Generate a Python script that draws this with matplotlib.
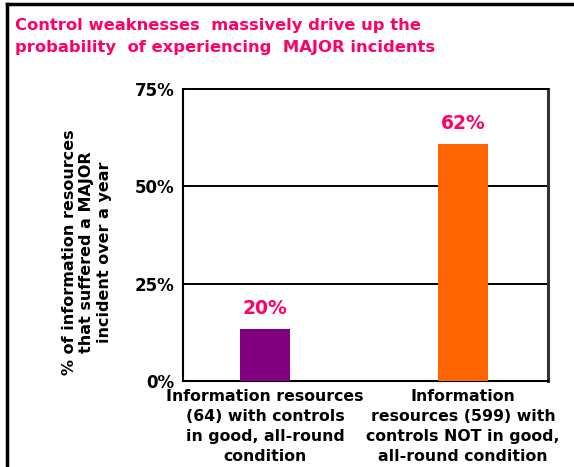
import matplotlib
matplotlib.use("Agg")
from matplotlib import pyplot as plt
from matplotlib.lines import Line2D

# data
categories = ["Information resources\n(64) with controls\nin good, all-round\ncondition",
              "Information\nresources (599) with\ncontrols NOT in good,\nall-round condition"]
bar_heights = [13.3, 61.0]          # drawn heights (percent)
bar_labels = ["20%", "62%"]         # printed labels
bar_colors = ["#800080", "#FF6600"]
yticks = [0, 25, 50, 75]
ytick_labels = ["0%", "25%", "50%", "75%"]

PINK = "#FF0066"
plt.rcParams["font.family"] = ["DejaVu Sans"]

fig = plt.figure(figsize=(5.74, 4.67), dpi=100)
ax = fig.add_axes([183 / 574, 1 - 381 / 467, 365 / 574, (381 - 89) / 467])

x = list(range(len(categories)))
bars = ax.bar(x, bar_heights, width=0.25, color=bar_colors, zorder=3)
for b, lab in zip(bars, bar_labels):
    ax.text(b.get_x() + b.get_width() / 2, b.get_height() + 2.8, lab,
            ha="center", va="bottom", color=PINK, fontsize=13.5, fontweight="bold")

ax.set_xlim(-0.414, 1.429)
ax.set_ylim(0, 75)
ax.set_yticks(yticks)
ax.set_yticklabels(ytick_labels, fontsize=12, fontweight="bold")
ax.set_xticks(x)
ax.set_xticklabels(categories, fontsize=11.3, fontweight="bold", linespacing=1.42)
ax.tick_params(axis="both", length=0, pad=6)
ax.tick_params(axis="x", pad=6)
ax.grid(axis="y", color="black", linewidth=1.4, zorder=1)

fig.text(87 / 574, 1 - 252 / 467,
         "% of information resources\nthat suffered a MAJOR\nincident over a year",
         rotation=90, ha="center", va="center", fontsize=11.5, fontweight="bold",
         linespacing=1.2, multialignment="center")

for side in ["left", "bottom"]:
    ax.spines[side].set_linewidth(1.5)
ax.spines["right"].set_linewidth(2.2)
ax.spines["right"].set_color("#333333")
ax.spines["top"].set_linewidth(1.4)

fig.text(15 / 574, 1 - 18 / 467,
         "Control weaknesses  massively drive up the\nprobability  of experiencing  MAJOR incidents",
         ha="left", va="top", color=PINK, fontsize=11.8, fontweight="bold", linespacing=1.55)

# outer frame (left and top edges)
fig.add_artist(Line2D([7 / 574, 7 / 574], [0, 1 - 4 / 467], color="black", linewidth=2.5))
fig.add_artist(Line2D([7 / 574, 1], [1 - 4 / 467, 1 - 4 / 467], color="black", linewidth=2.5))

plt.savefig("out.png", dpi=100)
